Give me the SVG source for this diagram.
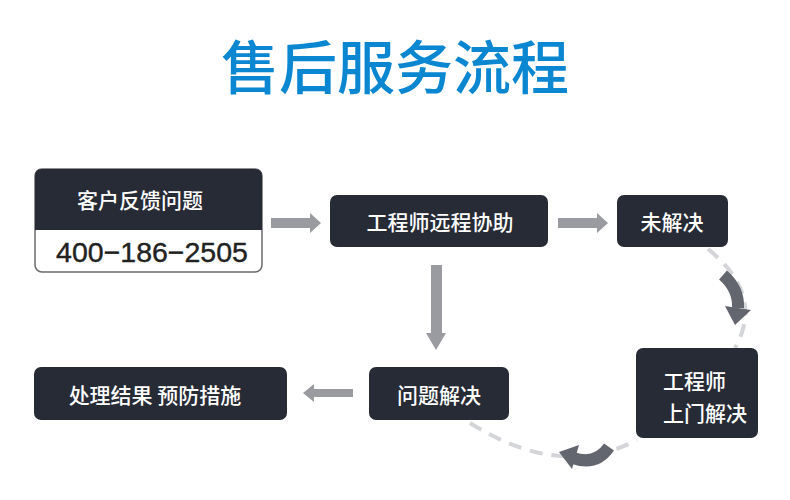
<svg xmlns="http://www.w3.org/2000/svg" width="790" height="500" viewBox="0 0 790 500">
<defs>
<style>
.box{fill:#272b36;}
.t{font-family:"Noto Sans CJK SC","Liberation Sans",sans-serif;font-size:21px;fill:#ffffff;font-weight:500;}
.c{text-anchor:middle;dominant-baseline:central;}
.arr{fill:#9a9ba0;}
.dash{fill:none;stroke:#d4d5d8;stroke-width:4;stroke-dasharray:13 9;}
.curl{fill:none;stroke:#63666e;stroke-width:12;}
.head{fill:#63666e;}
</style>
</defs>
<rect width="790" height="500" fill="#ffffff"/>
<text x="395" y="64" text-anchor="middle" dominant-baseline="central" font-family="'Noto Sans CJK SC','Liberation Sans',sans-serif" font-size="58" font-weight="500" fill="#0b87d2">售后服务流程</text>

<g id="connectors">
<path class="arr" d="M271 218 H310 V213 L321 223 L310 233 V228 H271 Z"/>
<path class="arr" d="M558 218 H597 V213 L608 223 L597 233 V228 H558 Z"/>
<path class="arr" d="M431 265 H442 V333 H446 L436 350 L426 333 H431 Z"/>
<path class="arr" d="M353 389 V397 H314 V402 L303 393 L314 384 V389 Z"/>
<path class="dash" d="M708 249 Q765 295 735 348"/>
<path class="dash" d="M470 423 Q560 480 637 440"/>
<path class="curl" d="M723 275 Q739 289 738 308"/>
<path class="head" d="M725 306 L751 310 L735 325 Z"/>
<path class="curl" d="M609 447 Q596 466 573 458"/>
<path class="head" d="M579 445 L572 469 L559 452 Z"/>
</g>

<g id="node-feedback">
<rect x="35" y="169" width="227" height="103" rx="7" fill="#ffffff" stroke="#6b6b6b" stroke-width="1.5"/>
<path class="box" d="M35 176 Q35 169 42 169 H255 Q262 169 262 176 V230 H35 Z"/>
<text class="t c" x="140" y="199">客户反馈问题</text>
<text x="152" y="252" text-anchor="middle" dominant-baseline="central" font-family="'Liberation Sans',Arial,sans-serif" font-size="28.5" fill="#222222" stroke="#222222" stroke-width="0.4">400−186−2505</text>
</g>

<g id="node-remote">
<rect class="box" x="330" y="195" width="218" height="52" rx="7"/>
<text class="t c" x="440" y="221">工程师远程协助</text>
</g>

<g id="node-unsolved">
<rect class="box" x="617" y="195" width="111" height="52" rx="7"/>
<text class="t c" x="672" y="221">未解决</text>
</g>

<g id="node-onsite">
<rect class="box" x="636" y="348" width="122" height="90" rx="7"/>
<text class="t" x="663" y="380" dominant-baseline="central">工程师</text>
<text class="t" x="663" y="412" dominant-baseline="central">上门解决</text>
</g>

<g id="node-solved">
<rect class="box" x="369" y="367" width="140" height="53" rx="7"/>
<text class="t c" x="439" y="394">问题解决</text>
</g>

<g id="node-result">
<rect class="box" x="34" y="367" width="253" height="53" rx="7"/>
<text class="t c" x="155" y="394">处理结果 预防措施</text>
</g>
</svg>
